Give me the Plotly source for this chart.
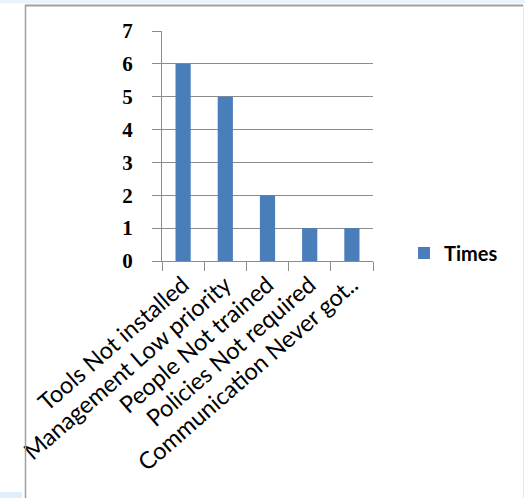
import plotly.graph_objects as go

categories = ["Tools Not installed", "Management Low priority", "People Not trained",
              "Policies Not required", "Communication Never got.."]
times = [6, 5, 2, 1, 1]
y_ticks = [0, 1, 2, 3, 4, 5, 6, 7]
series_name = "Times"

W, H = 525, 498
L, R, T, B = 162, 373, 31, 261
pw, ph = R - L, B - T

def px(x):
    return (x - L) / pw

def py(y):
    return (B - y) / ph

fig = go.Figure()
fig.add_trace(go.Bar(x=categories, y=times, name=series_name,
                     marker=dict(color="#4a7ebb", line=dict(width=0)),
                     showlegend=True))

fig.update_layout(
    width=W, height=H,
    margin=dict(l=L, r=W - R, t=T, b=H - B, pad=0),
    paper_bgcolor="white", plot_bgcolor="white",
    bargap=0.64,
    showlegend=True,
    legend=dict(x=px(404), y=py(253), xanchor="left", yanchor="middle",
                font=dict(family="Lato", size=20, color="black", weight="bold"),
                bgcolor="rgba(0,0,0,0)", itemwidth=30, tracegroupgap=0),
    xaxis=dict(type="category", tickangle=-41, tickson="boundaries",
               ticks="outside", ticklen=9, tickcolor="#8c8c8c", tickwidth=1,
               showline=True, linecolor="#8c8c8c", linewidth=1,
               showgrid=False,
               tickfont=dict(family="Lato", size=23.5, color="black")),
    yaxis=dict(range=[0, 7], tickvals=y_ticks, ticks="outside", ticklen=9,
               tickcolor="#8c8c8c", tickwidth=1,
               showline=True, linecolor="#8c8c8c", linewidth=1,
               showgrid=True, gridcolor="#8c8c8c", gridwidth=1,
               zeroline=False, ticklabelstandoff=15,
               tickfont=dict(family="Liberation Serif", size=21, color="black", weight="bold")),
    shapes=[
        dict(type="rect", xref="paper", yref="paper", x0=px(-5), x1=px(530), y0=py(3.5), y1=py(-5),
             fillcolor="#e8f3fc", line=dict(width=0), layer="below"),
        dict(type="rect", xref="paper", yref="paper", x0=px(-5), x1=px(22), y0=py(505), y1=py(492),
             fillcolor="#e0eefb", line=dict(width=0), layer="below"),
        dict(type="line", xref="paper", yref="paper", x0=px(25), x1=px(523), y0=py(5.5), y1=py(5.5),
             line=dict(color="#a0a0a0", width=2)),
        dict(type="line", xref="paper", yref="paper", x0=px(25.5), x1=px(25.5), y0=py(5), y1=py(505),
             line=dict(color="#a0a0a0", width=1.5)),
        dict(type="line", xref="paper", yref="paper", x0=px(523.5), x1=px(523.5), y0=py(5), y1=py(505),
             line=dict(color="#e6e6e6", width=1)),
    ],
)

fig.write_html("out.html")
